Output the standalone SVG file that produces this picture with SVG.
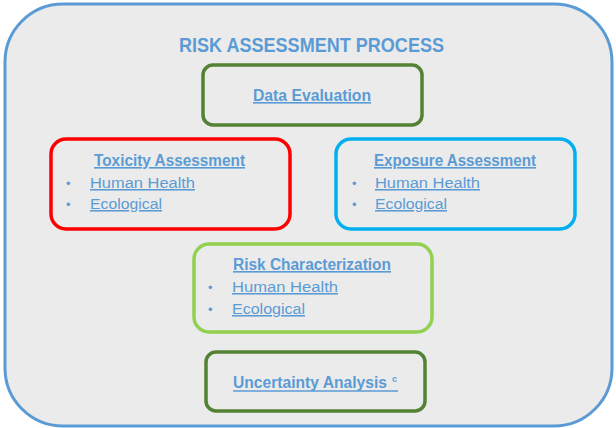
<svg xmlns="http://www.w3.org/2000/svg" width="616" height="428" viewBox="0 0 616 428">
<style>
text{font-family:"Liberation Sans",Arial,sans-serif;fill:#5b9bd5}
.h{font-weight:bold;font-size:16px;text-decoration:underline}
.t{font-size:15.5px;text-decoration:underline}
.b{font-size:13px}
.box{fill:none;stroke-width:3.5}
</style>
<rect x="5" y="4" width="607" height="422" rx="58" fill="#ebebeb" stroke="#5b9bd5" stroke-width="3"/>
<text x="179" y="52" font-size="20.5" font-weight="bold" textLength="265" lengthAdjust="spacingAndGlyphs">RISK ASSESSMENT PROCESS</text>
<g id="data-evaluation">
<rect class="box" x="203" y="65" width="219" height="60" rx="10" stroke="#548235"/>
<text class="h" x="253" y="101" textLength="118" lengthAdjust="spacingAndGlyphs">Data Evaluation</text>
</g>
<g id="toxicity-assessment">
<rect class="box" x="51" y="139" width="239" height="90" rx="15" stroke="#ff0000"/>
<text class="h" x="94" y="166" textLength="151" lengthAdjust="spacingAndGlyphs">Toxicity Assessment</text>
<text class="b" x="66" y="188">•</text>
<text class="t" x="90" y="188" textLength="105" lengthAdjust="spacingAndGlyphs">Human Health</text>
<text class="b" x="66" y="209">•</text>
<text class="t" x="90" y="209" textLength="72" lengthAdjust="spacingAndGlyphs">Ecological</text>
</g>
<g id="exposure-assessment">
<rect class="box" x="336" y="139" width="239" height="90" rx="15" stroke="#00b0f0"/>
<text class="h" x="374" y="166" textLength="162" lengthAdjust="spacingAndGlyphs">Exposure Assessment</text>
<text class="b" x="352" y="188">•</text>
<text class="t" x="375" y="188" textLength="105" lengthAdjust="spacingAndGlyphs">Human Health</text>
<text class="b" x="352" y="209">•</text>
<text class="t" x="375" y="209" textLength="72" lengthAdjust="spacingAndGlyphs">Ecological</text>
</g>
<g id="risk-characterization">
<rect class="box" x="194" y="244" width="238" height="88" rx="15" stroke="#92d050"/>
<text class="h" x="233" y="270" textLength="158" lengthAdjust="spacingAndGlyphs">Risk Characterization</text>
<text class="b" x="208" y="292">•</text>
<text class="t" x="232" y="292" textLength="106" lengthAdjust="spacingAndGlyphs">Human Health</text>
<text class="b" x="208" y="314">•</text>
<text class="t" x="232" y="314" textLength="73" lengthAdjust="spacingAndGlyphs">Ecological</text>
</g>
<g id="uncertainty-analysis">
<rect class="box" x="206" y="352" width="219" height="59" rx="10" stroke="#548235"/>
<text x="233" y="388" font-size="16" font-weight="bold" textLength="154" lengthAdjust="spacingAndGlyphs">Uncertainty Analysis</text>
<text x="392" y="382" font-size="9" font-weight="bold">c</text>
<line x1="233" y1="391" x2="398" y2="391" stroke="#5b9bd5" stroke-width="1.3"/>
</g>
<g id="connectors"/>
</svg>
